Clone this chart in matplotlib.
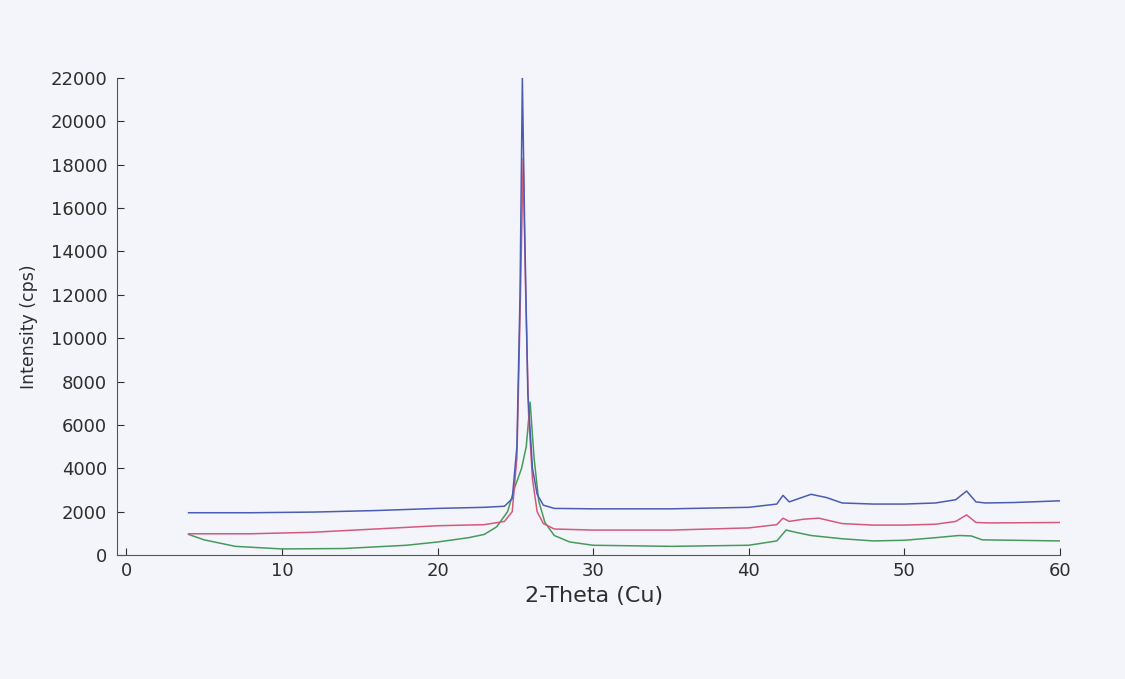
import matplotlib
matplotlib.use('Agg')
from matplotlib import pyplot as plt

plt.rcParams['font.family'] = ['DejaVu Sans']

# XRD patterns (2-theta in degrees, intensity in cps)
blue_x = [4, 8, 12, 16, 20, 23, 24.3, 24.8, 25.1, 25.3, 25.45, 25.6, 25.8, 26.1,
          26.4, 26.8, 27.5, 30, 35, 40, 41.8, 42.2, 42.6, 43.0, 44.0, 45, 46, 48,
          50, 52, 53.3, 54.0, 54.6, 55.2, 57, 60]
blue_y = [1950, 1950, 1980, 2050, 2150, 2200, 2250, 2600, 5000, 12000, 22000, 15000,
          7500, 4000, 2800, 2300, 2150, 2130, 2130, 2200, 2350, 2750, 2450, 2550,
          2800, 2650, 2400, 2350, 2350, 2400, 2550, 2950, 2450, 2400, 2420, 2500]

red_x = [4, 8, 12, 16, 20, 23, 24.3, 24.8, 25.1, 25.3, 25.5, 25.65, 25.85, 26.1,
         26.4, 26.8, 27.5, 30, 35, 40, 41.8, 42.2, 42.6, 43.5, 44.5, 46, 48, 50,
         52, 53.3, 54.0, 54.6, 55.5, 60]
red_y = [980, 980, 1050, 1200, 1350, 1400, 1550, 2000, 4500, 11000, 18300, 12500,
         6500, 3500, 2000, 1450, 1200, 1150, 1150, 1250, 1400, 1700, 1550, 1650,
         1700, 1450, 1380, 1380, 1420, 1550, 1850, 1500, 1480, 1500]

green_x = [4, 5, 7, 10, 14, 18, 20, 22, 23, 23.8, 24.5, 25.0, 25.4, 25.7, 25.95,
           26.2, 26.5, 26.9, 27.5, 28.5, 30, 35, 40, 41.8, 42.4, 43.0, 44, 46, 48,
           50, 52, 53.5, 54.3, 55, 57, 60]
green_y = [950, 700, 400, 280, 300, 450, 600, 800, 950, 1300, 2000, 3200, 4000, 5000,
           7050, 4500, 2500, 1500, 900, 600, 450, 400, 450, 650, 1150, 1050, 900, 750,
           650, 680, 800, 900, 880, 700, 680, 650]

yticks = list(range(0, 22001, 2000))
xticks = [0, 10, 20, 30, 40, 50, 60]

fig = plt.figure(figsize=(11.25, 6.79), dpi=100, facecolor='#f4f5fa')
ax = fig.add_axes([0.104, 0.1826, 0.8382, 0.7025])
ax.set_facecolor('#f4f5fa')

ax.plot(green_x, green_y, color='#469a5c', lw=1.1)
ax.plot(red_x, red_y, color='#d45a7c', lw=1.1)
ax.plot(blue_x, blue_y, color='#4a5cb4', lw=1.1)

ax.set_xlim(-0.6, 60)
ax.set_ylim(0, 22000)
ax.set_xticks(xticks)
ax.set_yticks(yticks)
ax.tick_params(direction='in', length=5, labelsize=13, colors='#2e2e2e')
ax.tick_params(axis='y', pad=7)
ax.tick_params(axis='x', pad=5)

for s in ['top', 'right']:
    ax.spines[s].set_visible(False)
for s in ['left', 'bottom']:
    ax.spines[s].set_color('#555555')

ax.set_xlabel('2-Theta (Cu)', fontsize=16, color='#2e2e2e')
ax.set_ylabel('Intensity (cps)', fontsize=12.5, color='#2e2e2e')
ax.xaxis.set_label_coords(0.506, -0.066)
ax.yaxis.set_label_coords(-0.084, 0.478)

fig.savefig('out.png', dpi=100, facecolor=fig.get_facecolor())
